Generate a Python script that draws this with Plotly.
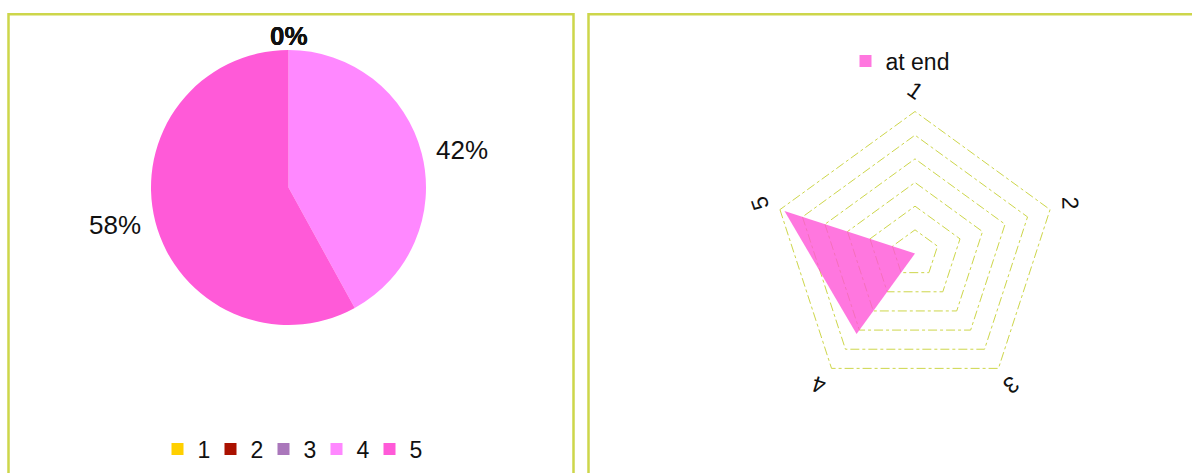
import math
import plotly.graph_objects as go

# ---- data ----
categories = ["1", "2", "3", "4", "5"]
pie_values = [0, 0, 0, 42, 58]
pie_colors = ["#ffd000", "#aa1100", "#aa77bb", "#ff88ff", "#ff5ad8"]
radar_name = "at end"
radar_values = [0, 0, 0, 42, 58]
radar_max = 60
radar_step = 10

W, H = 1192, 473
FONT = "Liberation Sans, Arial, sans-serif"
BORDER = "#cdd64a"


def px(x):
    return x / W


def py(y):
    return 1 - y / H


fig = go.Figure()

# pie
pie_cx, pie_cy, pie_r = 288.5, 187.5, 137.5
fig.add_trace(go.Pie(
    labels=categories, values=pie_values,
    marker=dict(colors=pie_colors, line=dict(width=0)),
    sort=False, direction="clockwise", rotation=0,
    textinfo="none",
    domain=dict(x=[px(pie_cx - pie_r), px(pie_cx + pie_r)],
                y=[py(pie_cy + pie_r), py(pie_cy - pie_r)]),
    showlegend=True, legend="legend",
    hoverinfo="label+percent",
))

# pie percentage labels, placed outside at each slice's mid angle
total = sum(pie_values)
cum = 0.0
for lab, v in zip(categories, pie_values):
    mid = (cum + v / 2) / total * 360.0
    cum += v
    rad = math.radians(mid)
    s, c = math.sin(rad), math.cos(rad)
    dist = pie_r - 3 + 16 * abs(s)
    ax_ = pie_cx + dist * s
    ay_ = pie_cy - dist * c
    if s > 0.5:
        xa, ya = "left", "middle"
    elif s < -0.5:
        xa, ya = "right", "middle"
    else:
        xa, ya = "center", ("bottom" if c > 0 else "top")
    pct = round(100 * v / total)
    txt = f"{pct}%"
    if v == 0:
        txt = f"<b>{txt}</b>"
    fig.add_annotation(x=px(ax_), y=py(ay_), xref="paper", yref="paper",
                       text=txt, showarrow=False, xanchor=xa, yanchor=ya,
                       font=dict(size=26, color="#111111", family=FONT))

# radar
rc_x, rc_y, rR = 915, 253.5, 142
r_top = radar_max + 2          # a little headroom so the outer grid ring is drawn
rR_dom = rR * r_top / radar_max
fill_col = "rgba(255,85,215,0.80)"
fig.add_trace(go.Scatterpolar(
    r=radar_values + radar_values[:1], theta=categories + categories[:1],
    mode="lines", line=dict(width=0, color=fill_col),
    fill="toself", fillcolor=fill_col,
    name=radar_name, showlegend=False,
))
fig.add_trace(go.Scatterpolar(
    r=[None], theta=[None], mode="markers",
    marker=dict(symbol="square", size=12, color=fill_col),
    name=radar_name, legend="legend2", showlegend=True,
))

fig.update_layout(
    width=W, height=H,
    margin=dict(l=0, r=0, t=0, b=0, autoexpand=False),
    paper_bgcolor="white", plot_bgcolor="white",
    font=dict(family=FONT, size=23, color="#111111"),
    polar=dict(
        domain=dict(x=[px(rc_x - rR_dom), px(rc_x + rR_dom)],
                    y=[py(rc_y + rR_dom), py(rc_y - rR_dom)]),
        bgcolor="rgba(0,0,0,0)",
        gridshape="linear",
        radialaxis=dict(range=[0, r_top], tickvals=list(range(radar_step, radar_max + 1, radar_step)),
                        showticklabels=False, ticks="", showline=False,
                        gridcolor=BORDER, griddash="dashdot", gridwidth=1),
        angularaxis=dict(direction="clockwise", rotation=90,
                         categoryorder="array", categoryarray=categories,
                         showgrid=False, showline=False, ticks="",
                         showticklabels=False),
    ),
    legend=dict(orientation="h", traceorder="normal", x=px(290), y=py(449),
                xanchor="center", yanchor="middle", font=dict(size=23),
                entrywidth=8, entrywidthmode="pixels",
                bgcolor="rgba(0,0,0,0)", itemclick=False),
    legend2=dict(orientation="h", traceorder="normal", x=px(900), y=py(61),
                 xanchor="center", yanchor="middle", font=dict(size=23),
                 bgcolor="rgba(0,0,0,0)"),
)

# panel borders
fig.add_shape(type="rect", xref="paper", yref="paper",
              x0=px(8.5), x1=px(573.5), y0=-0.2, y1=py(14.3),
              line=dict(color=BORDER, width=2.5), fillcolor="rgba(0,0,0,0)", layer="below")
fig.add_shape(type="rect", xref="paper", yref="paper",
              x0=px(588.5), x1=1.2, y0=-0.2, y1=py(14.3),
              line=dict(color=BORDER, width=2.5), fillcolor="rgba(0,0,0,0)", layer="below")

# rotated angular labels
n = len(categories)
for i, c in enumerate(categories):
    ang = 360.0 * i / n
    rad = math.radians(ang)
    lr = rR * 1.15
    fig.add_annotation(
        x=px(rc_x + lr * math.sin(rad)), y=py(rc_y - lr * math.cos(rad)),
        xref="paper", yref="paper", text=c, showarrow=False,
        textangle=35 + 0.75 * ang, font=dict(size=23, color="#111111", family=FONT),
        xanchor="center", yanchor="middle",
    )

fig.write_html("out.html")
